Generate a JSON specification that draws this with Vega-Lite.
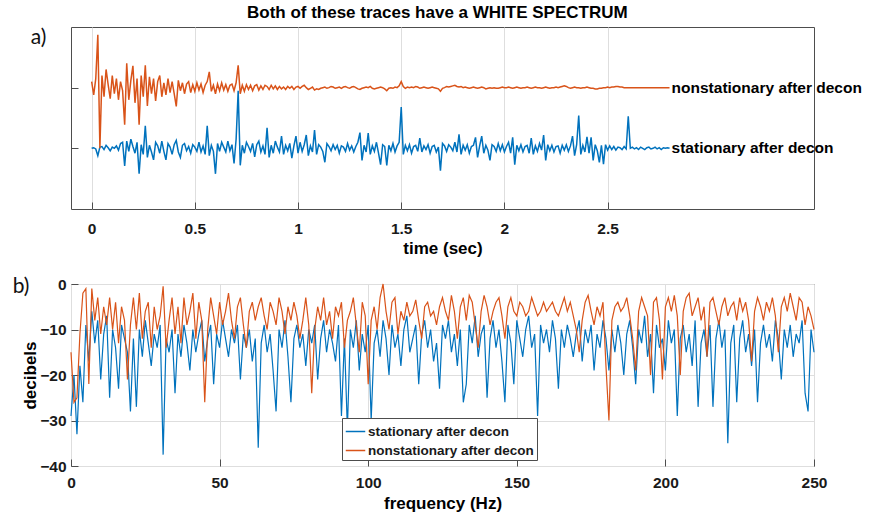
{
"$schema": "https://vega.github.io/schema/vega-lite/v6.json",
"background": "white",
"padding": {"left": 12, "top": 4, "right": 5, "bottom": 5},
"title": {"text": "Both of these traces have a WHITE SPECTRUM", "font": "Liberation Sans", "fontSize": 17, "fontWeight": "bold", "color": "#000000", "anchor": "middle", "offset": 4},
"config": {
  "font": "Liberation Sans",
  "view": {"stroke": "#4d4d4d", "strokeWidth": 1},
  "axis": {"labelFont": "Liberation Sans", "labelFontSize": 15.5, "labelFontWeight": "bold", "labelColor": "#1a1a1a", "labelFlush": false, "labelOverlap": false, "titleFont": "Liberation Sans", "titleFontSize": 17, "titleFontWeight": "bold", "titleColor": "#000000", "domain": false, "tickColor": "#4d4d4d", "tickSize": -7, "gridColor": "#dedede", "gridWidth": 1, "labelPadding": 17}
},
"resolve": {"scale": {"color": "independent"}, "legend": {"color": "independent"}},
"bounds": "flush",
"spacing": 75,
"datasets": {
"trace": [
{"t":0,"s":1.00,"o":2.10},{"t":0.01,"s":1.01,"o":1.88},{"t":0.02,"s":0.99,"o":2.15},{"t":0.03,"s":0.88,"o":2.87},{"t":0.04,"s":1.02,"o":1.00},{"t":0.05,"s":1.03,"o":2.20},{"t":0.06,"s":0.98,"o":1.85},{"t":0.07,"s":1.05,"o":2.30},{"t":0.08,"s":1.01,"o":2.05},{"t":0.09,"s":0.96,"o":1.82},
{"t":0.10,"s":1.02,"o":2.20},{"t":0.11,"s":1.00,"o":1.90},{"t":0.12,"s":1.04,"o":2.15},{"t":0.13,"s":0.97,"o":1.80},{"t":0.14,"s":1.08,"o":2.10},{"t":0.15,"s":1.10,"o":1.95},{"t":0.16,"s":0.71,"o":1.39},{"t":0.17,"s":1.12,"o":2.40},{"t":0.18,"s":0.95,"o":1.80},{"t":0.19,"s":1.15,"o":2.12},
{"t":0.20,"s":1.03,"o":2.36},{"t":0.21,"s":0.92,"o":1.75},{"t":0.22,"s":1.10,"o":2.15},{"t":0.23,"s":0.58,"o":1.39},{"t":0.24,"s":1.06,"o":2.20},{"t":0.25,"s":0.90,"o":1.85},{"t":0.26,"s":1.37,"o":2.37},{"t":0.27,"s":0.85,"o":1.70},{"t":0.28,"s":1.05,"o":2.18},{"t":0.29,"s":0.94,"o":1.90},
{"t":0.30,"s":0.81,"o":2.15},{"t":0.31,"s":1.10,"o":1.78},{"t":0.32,"s":1.04,"o":2.10},{"t":0.33,"s":0.92,"o":2.20},{"t":0.34,"s":1.12,"o":1.85},{"t":0.35,"s":0.95,"o":2.08},{"t":0.36,"s":0.81,"o":1.88},{"t":0.37,"s":1.08,"o":2.15},{"t":0.38,"s":1.02,"o":1.92},{"t":0.39,"s":0.90,"o":2.10},
{"t":0.40,"s":1.06,"o":1.90},{"t":0.41,"s":1.13,"o":1.69},{"t":0.42,"s":0.94,"o":2.12},{"t":0.43,"s":0.85,"o":1.95},{"t":0.44,"s":1.05,"o":2.08},{"t":0.45,"s":1.08,"o":1.90},{"t":0.46,"s":0.96,"o":2.06},{"t":0.47,"s":1.03,"o":2.10},{"t":0.48,"s":0.92,"o":1.92},{"t":0.49,"s":1.06,"o":2.05},
{"t":0.50,"s":1.02,"o":1.94},{"t":0.51,"s":0.95,"o":2.08},{"t":0.52,"s":1.10,"o":1.96},{"t":0.53,"s":0.94,"o":2.06},{"t":0.54,"s":1.04,"o":1.92},{"t":0.55,"s":0.90,"o":2.04},{"t":0.56,"s":1.37,"o":2.10},{"t":0.57,"s":0.88,"o":2.26},{"t":0.58,"s":1.05,"o":1.94},{"t":0.59,"s":0.95,"o":2.04},
{"t":0.60,"s":0.58,"o":1.90},{"t":0.61,"s":1.08,"o":2.06},{"t":0.62,"s":0.95,"o":1.95},{"t":0.63,"s":1.10,"o":2.08},{"t":0.64,"s":1.02,"o":1.96},{"t":0.65,"s":0.94,"o":2.05},{"t":0.66,"s":1.12,"o":1.94},{"t":0.67,"s":0.96,"o":2.04},{"t":0.68,"s":1.06,"o":2.06},{"t":0.69,"s":0.75,"o":1.95},
{"t":0.70,"s":1.15,"o":2.08},{"t":0.71,"s":1.95,"o":2.37},{"t":0.72,"s":0.72,"o":1.90},{"t":0.73,"s":1.05,"o":2.04},{"t":0.74,"s":0.92,"o":1.94},{"t":0.75,"s":1.10,"o":2.05},{"t":0.76,"s":1.03,"o":1.97},{"t":0.77,"s":0.95,"o":2.04},{"t":0.78,"s":1.08,"o":1.95},{"t":0.79,"s":0.86,"o":2.03},
{"t":0.80,"s":1.06,"o":2.05},{"t":0.81,"s":1.12,"o":1.96},{"t":0.82,"s":0.94,"o":2.03},{"t":0.83,"s":1.04,"o":1.97},{"t":0.84,"s":0.90,"o":2.04},{"t":0.85,"s":1.34,"o":2.02},{"t":0.86,"s":0.85,"o":1.97},{"t":0.87,"s":1.05,"o":2.04},{"t":0.88,"s":0.92,"o":1.98},{"t":0.89,"s":1.12,"o":2.03},
{"t":0.90,"s":1.02,"o":1.97},{"t":0.91,"s":0.94,"o":2.02},{"t":0.92,"s":1.20,"o":1.98},{"t":0.93,"s":0.90,"o":2.01},{"t":0.94,"s":1.05,"o":1.97},{"t":0.95,"s":0.96,"o":2.02},{"t":0.96,"s":1.08,"o":1.99},{"t":0.97,"s":0.84,"o":2.02},{"t":0.98,"s":1.04,"o":1.97},{"t":0.99,"s":1.20,"o":2.01},
{"t":1.00,"s":0.92,"o":2.02},{"t":1.01,"s":1.10,"o":1.99},{"t":1.02,"s":0.95,"o":2.02},{"t":1.03,"s":1.06,"o":2.04},{"t":1.04,"s":1.22,"o":2.00},{"t":1.05,"s":0.88,"o":1.97},{"t":1.06,"s":1.04,"o":1.99},{"t":1.07,"s":0.94,"o":2.01},{"t":1.08,"s":1.30,"o":1.96},{"t":1.09,"s":0.90,"o":1.98},
{"t":1.10,"s":1.06,"o":1.97},{"t":1.11,"s":1.02,"o":1.99},{"t":1.12,"s":0.95,"o":2.00},{"t":1.13,"s":0.77,"o":2.01},{"t":1.14,"s":1.08,"o":1.99},{"t":1.15,"s":1.03,"o":2.00},{"t":1.16,"s":0.96,"o":2.02},{"t":1.17,"s":1.06,"o":2.01},{"t":1.18,"s":0.98,"o":1.99},{"t":1.19,"s":1.05,"o":2.00},
{"t":1.20,"s":0.92,"o":2.01},{"t":1.21,"s":1.04,"o":1.99},{"t":1.22,"s":1.02,"o":2.01},{"t":1.23,"s":0.95,"o":2.02},{"t":1.24,"s":1.08,"o":2.00},{"t":1.25,"s":0.97,"o":1.99},{"t":1.26,"s":1.04,"o":2.01},{"t":1.27,"s":0.94,"o":2.02},{"t":1.28,"s":1.03,"o":2.00},{"t":1.29,"s":1.10,"o":1.98},
{"t":1.30,"s":1.26,"o":1.97},{"t":1.31,"s":0.80,"o":1.99},{"t":1.32,"s":1.05,"o":2.00},{"t":1.33,"s":0.94,"o":2.01},{"t":1.34,"s":1.25,"o":2.00},{"t":1.35,"s":0.90,"o":2.02},{"t":1.36,"s":1.04,"o":1.99},{"t":1.37,"s":0.95,"o":1.98},{"t":1.38,"s":1.10,"o":1.99},{"t":1.39,"s":0.92,"o":2.00},
{"t":1.40,"s":0.73,"o":2.01},{"t":1.41,"s":1.06,"o":2.00},{"t":1.42,"s":1.03,"o":1.98},{"t":1.43,"s":0.72,"o":1.95},{"t":1.44,"s":1.05,"o":1.99},{"t":1.45,"s":0.96,"o":2.00},{"t":1.46,"s":1.08,"o":1.99},{"t":1.47,"s":0.94,"o":2.01},{"t":1.48,"s":1.04,"o":2.00},{"t":1.49,"s":1.10,"o":2.03},
{"t":1.50,"s":1.68,"o":2.10},{"t":1.51,"s":0.90,"o":2.02},{"t":1.52,"s":1.05,"o":1.99},{"t":1.53,"s":0.96,"o":2.01},{"t":1.54,"s":1.06,"o":2.00},{"t":1.55,"s":0.92,"o":2.01},{"t":1.56,"s":1.03,"o":2.00},{"t":1.57,"s":1.05,"o":2.02},{"t":1.58,"s":0.95,"o":2.01},{"t":1.59,"s":1.17,"o":1.99},
{"t":1.60,"s":0.94,"o":2.00},{"t":1.61,"s":1.04,"o":2.01},{"t":1.62,"s":0.98,"o":2.00},{"t":1.63,"s":1.06,"o":1.99},{"t":1.64,"s":0.92,"o":2.00},{"t":1.65,"s":1.03,"o":2.01},{"t":1.66,"s":1.05,"o":2.00},{"t":1.67,"s":0.94,"o":1.99},{"t":1.68,"s":1.02,"o":1.98},{"t":1.69,"s":0.63,"o":1.94},
{"t":1.70,"s":1.08,"o":1.99},{"t":1.71,"s":1.04,"o":2.00},{"t":1.72,"s":0.95,"o":2.02},{"t":1.73,"s":1.06,"o":2.01},{"t":1.74,"s":1.02,"o":2.02},{"t":1.75,"s":0.96,"o":2.03},{"t":1.76,"s":1.10,"o":2.04},{"t":1.77,"s":0.94,"o":2.02},{"t":1.78,"s":1.23,"o":2.01},{"t":1.79,"s":0.90,"o":2.02},
{"t":1.80,"s":1.05,"o":2.00},{"t":1.81,"s":0.97,"o":2.01},{"t":1.82,"s":1.06,"o":2.00},{"t":1.83,"s":0.92,"o":1.99},{"t":1.84,"s":1.03,"o":2.00},{"t":1.85,"s":1.05,"o":2.01},{"t":1.86,"s":1.18,"o":2.00},{"t":1.87,"s":0.85,"o":1.99},{"t":1.88,"s":1.04,"o":2.00},{"t":1.89,"s":1.20,"o":2.01},
{"t":1.90,"s":0.92,"o":2.00},{"t":1.91,"s":1.05,"o":1.98},{"t":1.92,"s":0.97,"o":1.99},{"t":1.93,"s":0.80,"o":2.00},{"t":1.94,"s":1.06,"o":1.99},{"t":1.95,"s":1.03,"o":2.00},{"t":1.96,"s":0.95,"o":1.99},{"t":1.97,"s":1.08,"o":1.99},{"t":1.98,"s":0.96,"o":2.00},{"t":1.99,"s":1.06,"o":2.01},
{"t":2.00,"s":0.94,"o":2.00},{"t":2.01,"s":1.03,"o":2.00},{"t":2.02,"s":1.10,"o":2.01},{"t":2.03,"s":0.92,"o":2.00},{"t":2.04,"s":1.18,"o":1.99},{"t":2.05,"s":0.73,"o":2.00},{"t":2.06,"s":1.05,"o":2.01},{"t":2.07,"s":0.96,"o":2.00},{"t":2.08,"s":1.06,"o":1.99},{"t":2.09,"s":0.94,"o":2.00},
{"t":2.10,"s":1.03,"o":2.00},{"t":2.11,"s":1.05,"o":2.01},{"t":2.12,"s":0.92,"o":2.00},{"t":2.13,"s":1.17,"o":1.99},{"t":2.14,"s":0.90,"o":2.00},{"t":2.15,"s":1.04,"o":2.01},{"t":2.16,"s":0.95,"o":2.00},{"t":2.17,"s":1.08,"o":2.00},{"t":2.18,"s":0.97,"o":1.99},{"t":2.19,"s":1.22,"o":2.00},
{"t":2.20,"s":0.80,"o":2.01},{"t":2.21,"s":1.06,"o":2.00},{"t":2.22,"s":0.96,"o":1.99},{"t":2.23,"s":1.05,"o":2.00},{"t":2.24,"s":0.94,"o":2.00},{"t":2.25,"s":1.03,"o":2.01},{"t":2.26,"s":1.04,"o":2.00},{"t":2.27,"s":0.92,"o":2.01},{"t":2.28,"s":1.05,"o":2.02},{"t":2.29,"s":0.97,"o":2.03},
{"t":2.30,"s":1.06,"o":2.02},{"t":2.31,"s":0.95,"o":2.00},{"t":2.32,"s":1.04,"o":1.99},{"t":2.33,"s":1.20,"o":2.00},{"t":2.34,"s":0.88,"o":2.01},{"t":2.35,"s":1.06,"o":2.00},{"t":2.36,"s":1.54,"o":2.00},{"t":2.37,"s":0.90,"o":1.99},{"t":2.38,"s":1.05,"o":2.00},{"t":2.39,"s":0.94,"o":2.00},
{"t":2.40,"s":1.19,"o":2.01},{"t":2.41,"s":0.92,"o":2.00},{"t":2.42,"s":1.18,"o":1.99},{"t":2.43,"s":0.80,"o":1.99},{"t":2.44,"s":1.06,"o":1.98},{"t":2.45,"s":0.96,"o":1.98},{"t":2.46,"s":0.77,"o":1.99},{"t":2.47,"s":1.05,"o":1.99},{"t":2.48,"s":0.74,"o":2.00},{"t":2.49,"s":1.06,"o":2.00},
{"t":2.50,"s":0.97,"o":2.01},{"t":2.51,"s":1.04,"o":2.00},{"t":2.52,"s":0.98,"o":2.01},{"t":2.53,"s":1.03,"o":2.01},{"t":2.54,"s":0.97,"o":2.02},{"t":2.55,"s":1.02,"o":2.02},{"t":2.56,"s":1.01,"o":2.01},{"t":2.57,"s":0.98,"o":2.01},{"t":2.58,"s":1.03,"o":2.00},{"t":2.59,"s":0.99,"o":2.00},
{"t":2.60,"s":1.53,"o":2.00},{"t":2.61,"s":1.00,"o":2.00},{"t":2.62,"s":1.02,"o":2.00},{"t":2.63,"s":0.99,"o":2.00},{"t":2.64,"s":1.01,"o":2.00},{"t":2.65,"s":0.98,"o":2.00},{"t":2.66,"s":1.02,"o":2.00},{"t":2.67,"s":1.00,"o":2.00},{"t":2.68,"s":0.98,"o":2.00},{"t":2.69,"s":1.01,"o":2.00},
{"t":2.70,"s":1.02,"o":2.00},{"t":2.71,"s":0.99,"o":2.00},{"t":2.72,"s":1.00,"o":2.00},{"t":2.73,"s":1.02,"o":2.00},{"t":2.74,"s":0.99,"o":2.00},{"t":2.75,"s":1.01,"o":2.00},{"t":2.76,"s":0.98,"o":2.00},{"t":2.77,"s":1.01,"o":2.00},{"t":2.78,"s":1.00,"o":2.00},{"t":2.79,"s":1.01,"o":2.00},
{"t":2.80,"s":1.00,"o":2.00}
],
"spec": [
{"f":0,"s":-29,"o":-15},{"f":1,"s":-20,"o":-26},{"f":2,"s":-33,"o":-25},{"f":3,"s":-18,"o":-11},{"f":4,"s":-26,"o":-2},{"f":5,"s":-9,"o":-1},{"f":6,"s":-17,"o":-22},{"f":7,"s":-6,"o":-1},{"f":8,"s":-13,"o":-8},{"f":9,"s":-8,"o":-3},
{"f":10,"s":-21,"o":-11},{"f":11,"s":-11,"o":-5},{"f":12,"s":-7,"o":-9},{"f":13,"s":-25,"o":-3},{"f":14,"s":-10,"o":-10},{"f":15,"s":-14,"o":-4},{"f":16,"s":-23,"o":-13},{"f":17,"s":-9,"o":-5},{"f":18,"s":-12,"o":-8},{"f":19,"s":-15,"o":-21},
{"f":20,"s":-28,"o":-9},{"f":21,"s":-12,"o":-3},{"f":22,"s":-27,"o":-10},{"f":23,"s":-10,"o":-2},{"f":24,"s":-16,"o":-12},{"f":25,"s":-8,"o":-6},{"f":26,"s":-13,"o":-4},{"f":27,"s":-18,"o":-14},{"f":28,"s":-11,"o":-5},{"f":29,"s":-14,"o":-10},
{"f":30,"s":-9,"o":-7},{"f":31,"s":-37.5,"o":-0.5},{"f":32,"s":-12,"o":-14},{"f":33,"s":-15,"o":-8},{"f":34,"s":-10,"o":-3},{"f":35,"s":-24,"o":-11},{"f":36,"s":-11,"o":-5},{"f":37,"s":-16,"o":-13},{"f":38,"s":-9,"o":-3},{"f":39,"s":-13,"o":-9},
{"f":40,"s":-19,"o":-6},{"f":41,"s":-10,"o":-2},{"f":42,"s":-15,"o":-12},{"f":43,"s":-11,"o":-4},{"f":44,"s":-8,"o":-8},{"f":45,"s":-17,"o":-26},{"f":46,"s":-12,"o":-10},{"f":47,"s":-9,"o":-3},{"f":48,"s":-22,"o":-7},{"f":49,"s":-11,"o":-11},
{"f":50,"s":-14,"o":-4},{"f":51,"s":-8,"o":-9},{"f":52,"s":-12,"o":-6},{"f":53,"s":-16,"o":-2},{"f":54,"s":-10,"o":-8},{"f":55,"s":-13,"o":-12},{"f":56,"s":-9,"o":-5},{"f":57,"s":-21,"o":-3},{"f":58,"s":-11,"o":-9},{"f":59,"s":-14,"o":-14},
{"f":60,"s":-10,"o":-6},{"f":61,"s":-17,"o":-4},{"f":62,"s":-12,"o":-8},{"f":63,"s":-36,"o":-5},{"f":64,"s":-13,"o":-3},{"f":65,"s":-9,"o":-7},{"f":66,"s":-15,"o":-10},{"f":67,"s":-11,"o":-4},{"f":68,"s":-19,"o":-6},{"f":69,"s":-28,"o":-9},
{"f":70,"s":-10,"o":-3},{"f":71,"s":-14,"o":-6},{"f":72,"s":-8,"o":-11},{"f":73,"s":-16,"o":-5},{"f":74,"s":-26,"o":-8},{"f":75,"s":-12,"o":-4},{"f":76,"s":-9,"o":-7},{"f":77,"s":-14,"o":-12},{"f":78,"s":-11,"o":-8},{"f":79,"s":-18,"o":-3},
{"f":80,"s":-10,"o":-9},{"f":81,"s":-13,"o":-24},{"f":82,"s":-9,"o":-10},{"f":83,"s":-21,"o":-5},{"f":84,"s":-12,"o":-8},{"f":85,"s":-8,"o":-3},{"f":86,"s":-15,"o":-9},{"f":87,"s":-10,"o":-6},{"f":88,"s":-13,"o":-12},{"f":89,"s":-17,"o":-5},
{"f":90,"s":-9,"o":-7},{"f":91,"s":-29,"o":-4},{"f":92,"s":-12,"o":-14},{"f":93,"s":-32,"o":-8},{"f":94,"s":-10,"o":-6},{"f":95,"s":-14,"o":-3},{"f":96,"s":-8,"o":-9},{"f":97,"s":-19,"o":-15},{"f":98,"s":-11,"o":-4},{"f":99,"s":-15,"o":-7},
{"f":100,"s":-9,"o":-22},{"f":101,"s":-30,"o":-8},{"f":102,"s":-13,"o":-5},{"f":103,"s":-10,"o":-10},{"f":104,"s":-16,"o":-3},{"f":105,"s":-8,"o":0},{"f":106,"s":-12,"o":-6},{"f":107,"s":-20,"o":-10},{"f":108,"s":-9,"o":-4},{"f":109,"s":-14,"o":-3},
{"f":110,"s":-11,"o":-11},{"f":111,"s":-18,"o":-6},{"f":112,"s":-10,"o":-8},{"f":113,"s":-7,"o":-4},{"f":114,"s":-15,"o":-7},{"f":115,"s":-12,"o":-6},{"f":116,"s":-9,"o":-3.5},{"f":117,"s":-22,"o":-8},{"f":118,"s":-11,"o":-12},{"f":119,"s":-8,"o":-5},
{"f":120,"s":-14,"o":-4},{"f":121,"s":-10,"o":-7},{"f":122,"s":-17,"o":-6},{"f":123,"s":-13,"o":-9},{"f":124,"s":-23,"o":-5},{"f":125,"s":-9,"o":-3},{"f":126,"s":-12,"o":-6},{"f":127,"s":-8,"o":-8},{"f":128,"s":-15,"o":-2.5},{"f":129,"s":-11,"o":-6},
{"f":130,"s":-18,"o":-12},{"f":131,"s":-10,"o":-5},{"f":132,"s":-26,"o":-3},{"f":133,"s":-22,"o":-8},{"f":134,"s":-9,"o":-2.5},{"f":135,"s":-13,"o":-4},{"f":136,"s":-7,"o":-9},{"f":137,"s":-16,"o":-14},{"f":138,"s":-11,"o":-6},{"f":139,"s":-9,"o":-2.5},
{"f":140,"s":-25,"o":-5},{"f":141,"s":-12,"o":-9},{"f":142,"s":-8,"o":-6},{"f":143,"s":-14,"o":-4},{"f":144,"s":-10,"o":-3},{"f":145,"s":-17,"o":-7},{"f":146,"s":-26,"o":-12},{"f":147,"s":-9,"o":-5},{"f":148,"s":-13,"o":-3},{"f":149,"s":-22,"o":-6},
{"f":150,"s":-8,"o":-7},{"f":151,"s":-12,"o":-4},{"f":152,"s":-16,"o":-5},{"f":153,"s":-10,"o":-7},{"f":154,"s":-7,"o":-6},{"f":155,"s":-14,"o":-3},{"f":156,"s":-11,"o":-5},{"f":157,"s":-29,"o":-7},{"f":158,"s":-9,"o":-6},{"f":159,"s":-13,"o":-4},
{"f":160,"s":-10,"o":-6},{"f":161,"s":-15,"o":-5},{"f":162,"s":-8,"o":-4},{"f":163,"s":-12,"o":-6},{"f":164,"s":-23,"o":-7},{"f":165,"s":-10,"o":-5},{"f":166,"s":-14,"o":-3},{"f":167,"s":-9,"o":-6},{"f":168,"s":-12,"o":-4},{"f":169,"s":-16,"o":-7},
{"f":170,"s":-11,"o":-10},{"f":171,"s":-8,"o":-15},{"f":172,"s":-17,"o":-8},{"f":173,"s":-10,"o":-4},{"f":174,"s":-13,"o":-2.5},{"f":175,"s":-9,"o":-6},{"f":176,"s":-19,"o":-9},{"f":177,"s":-11,"o":-5},{"f":178,"s":-14,"o":-7},{"f":179,"s":-8,"o":-4},
{"f":180,"s":-12,"o":-18},{"f":181,"s":-19,"o":-30},{"f":182,"s":-10,"o":-8},{"f":183,"s":-15,"o":-5},{"f":184,"s":-9,"o":-4},{"f":185,"s":-13,"o":-6},{"f":186,"s":-20,"o":-5},{"f":187,"s":-11,"o":-3},{"f":188,"s":-8,"o":-7},{"f":189,"s":-14,"o":-12},
{"f":190,"s":-22,"o":-19},{"f":191,"s":-10,"o":-6},{"f":192,"s":-13,"o":-3},{"f":193,"s":-7,"o":-5},{"f":194,"s":-16,"o":-7},{"f":195,"s":-11,"o":-20},{"f":196,"s":-24,"o":-4},{"f":197,"s":-9,"o":-3},{"f":198,"s":-14,"o":-8},{"f":199,"s":-12,"o":-21},
{"f":200,"s":-19,"o":-5},{"f":201,"s":-8,"o":-3},{"f":202,"s":-13,"o":-6},{"f":203,"s":-10,"o":-2.5},{"f":204,"s":-29,"o":-7},{"f":205,"s":-12,"o":-20},{"f":206,"s":-9,"o":-6},{"f":207,"s":-15,"o":-3},{"f":208,"s":-11,"o":-2},{"f":209,"s":-18,"o":-7},
{"f":210,"s":-8,"o":-5},{"f":211,"s":-27,"o":-3},{"f":212,"s":-13,"o":-8},{"f":213,"s":-10,"o":-5},{"f":214,"s":-16,"o":-16},{"f":215,"s":-9,"o":-4},{"f":216,"s":-27,"o":-3},{"f":217,"s":-12,"o":-6},{"f":218,"s":-8,"o":-9},{"f":219,"s":-14,"o":-5},
{"f":220,"s":-10,"o":-3},{"f":221,"s":-35,"o":-7},{"f":222,"s":-13,"o":-5},{"f":223,"s":-9,"o":-4},{"f":224,"s":-26,"o":-8},{"f":225,"s":-12,"o":-3},{"f":226,"s":-8,"o":-6},{"f":227,"s":-15,"o":-4},{"f":228,"s":-11,"o":-8},{"f":229,"s":-18,"o":-17},
{"f":230,"s":-10,"o":-6},{"f":231,"s":-26,"o":-3},{"f":232,"s":-13,"o":-5},{"f":233,"s":-9,"o":-8},{"f":234,"s":-14,"o":-4},{"f":235,"s":-11,"o":-6},{"f":236,"s":-17,"o":-3},{"f":237,"s":-8,"o":-7},{"f":238,"s":-12,"o":-15},{"f":239,"s":-21,"o":-5},
{"f":240,"s":-10,"o":-3},{"f":241,"s":-14,"o":-6},{"f":242,"s":-9,"o":-2},{"f":243,"s":-16,"o":-5},{"f":244,"s":-11,"o":-8},{"f":245,"s":-13,"o":-3},{"f":246,"s":-8,"o":-4},{"f":247,"s":-24,"o":-9},{"f":248,"s":-28,"o":-5},{"f":249,"s":-10,"o":-7},
{"f":250,"s":-15,"o":-10}
]
},
"vconcat": [
{
  "width": 743, "height": 182,
  "layer": [
    {"data": {"name": "trace"}, "mark": {"type": "line", "strokeWidth": 1.5},
     "encoding": {
       "x": {"field": "t", "type": "quantitative", "scale": {"domain": [-0.1, 3.5], "nice": false, "zero": false}, "axis": {"values": [0, 0.5, 1, 1.5, 2, 2.5], "format": "~g", "title": "time (sec)", "grid": true, "titlePadding": 4, "labelPadding": 19}},
       "y": {"field": "s", "type": "quantitative", "scale": {"domain": [0, 3], "nice": false}, "axis": {"values": [1, 2], "labels": false, "grid": false, "title": null}},
       "color": {"datum": "stationary after decon", "type": "nominal", "scale": {"domain": ["stationary after decon", "nonstationary after decon"], "range": ["#0072BD", "#D95319"]}, "legend": null}
     }},
    {"data": {"name": "trace"}, "mark": {"type": "line", "strokeWidth": 1.5},
     "encoding": {
       "x": {"field": "t", "type": "quantitative"},
       "y": {"field": "o", "type": "quantitative"},
       "color": {"datum": "nonstationary after decon", "type": "nominal"}
     }},
    {"data": {"values": [{"t": 2.81, "y": 2, "label": "nonstationary after decon"}, {"t": 2.81, "y": 1, "label": "stationary after decon"}]},
     "mark": {"type": "text", "align": "left", "baseline": "middle", "font": "Liberation Sans", "fontSize": 15.5, "fontWeight": "bold", "color": "#000000"},
     "encoding": {"x": {"field": "t", "type": "quantitative"}, "y": {"field": "y", "type": "quantitative"}, "text": {"field": "label"}}},
    {"data": {"values": [{"t": -0.257, "y": 2.82, "label": "a)"}]},
     "mark": {"type": "text", "align": "center", "baseline": "middle", "font": "Lato", "fontSize": 21, "color": "#111111"},
     "encoding": {"x": {"field": "t", "type": "quantitative"}, "y": {"field": "y", "type": "quantitative"}, "text": {"field": "label"}}}
  ]
},
{
  "width": 743, "height": 182,
  "layer": [
    {"data": {"name": "spec"}, "mark": {"type": "line", "strokeWidth": 1.2},
     "encoding": {
       "x": {"field": "f", "type": "quantitative", "scale": {"domain": [0, 250], "nice": false}, "axis": {"values": [0, 50, 100, 150, 200, 250], "format": "d", "title": "frequency (Hz)", "grid": true, "titlePadding": 5, "labelPadding": 16}},
       "y": {"field": "s", "type": "quantitative", "scale": {"domain": [-40, 0], "nice": false}, "axis": {"values": [-40, -30, -20, -10, 0], "format": "d", "title": "decibels", "grid": true, "labelPadding": 12, "titlePadding": 0}},
       "color": {"datum": "stationary after decon", "type": "nominal", "scale": {"domain": ["stationary after decon", "nonstationary after decon"], "range": ["#0072BD", "#D95319"]},
         "legend": {"title": null, "orient": "none", "legendX": 271, "legendY": 134, "direction": "vertical", "symbolType": "stroke", "symbolSize": 380, "symbolStrokeWidth": 1.5, "labelFont": "Liberation Sans", "labelFontSize": 13.5, "labelFontWeight": "bold", "labelColor": "#1a1a1a", "labelLimit": 400, "strokeColor": "#4d4d4d", "fillColor": "#ffffff", "padding": 3, "rowPadding": 2, "labelOffset": 2}}
     }},
    {"data": {"name": "spec"}, "mark": {"type": "line", "strokeWidth": 1.2},
     "encoding": {
       "x": {"field": "f", "type": "quantitative"},
       "y": {"field": "o", "type": "quantitative"},
       "color": {"datum": "nonstationary after decon", "type": "nominal"}
     }},
    {"data": {"values": [{"f": -16.8, "y": -0.7, "label": "b)"}]},
     "mark": {"type": "text", "align": "center", "baseline": "middle", "font": "Lato", "fontSize": 21, "color": "#111111"},
     "encoding": {"x": {"field": "f", "type": "quantitative"}, "y": {"field": "y", "type": "quantitative"}, "text": {"field": "label"}}}
  ]
}
]
}
